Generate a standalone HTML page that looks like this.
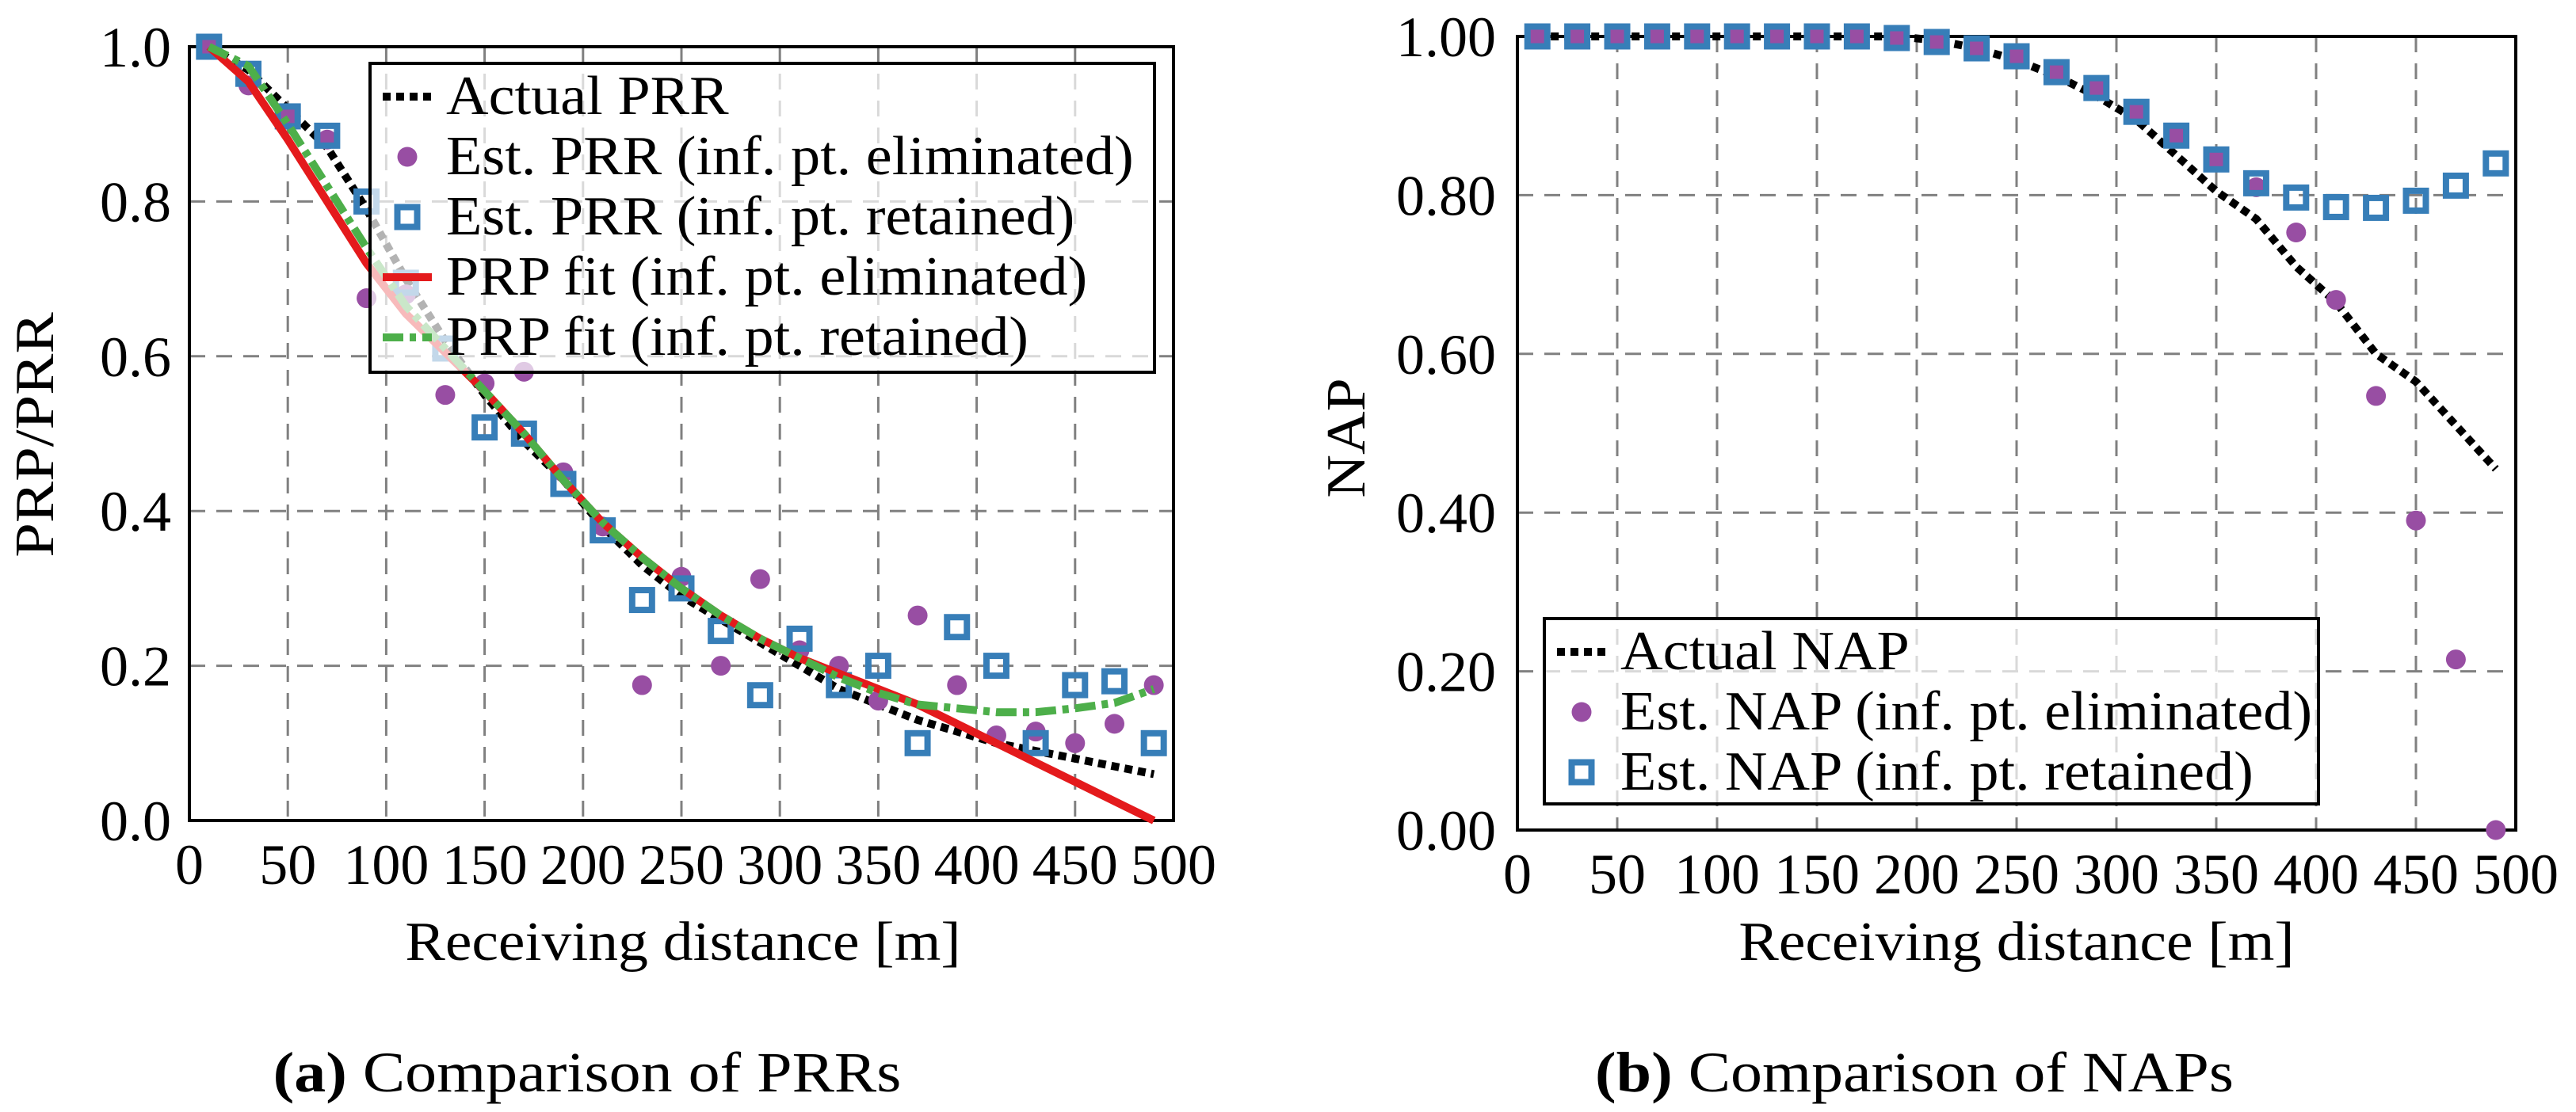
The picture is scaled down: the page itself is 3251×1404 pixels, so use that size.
<!DOCTYPE html>
<html><head><meta charset="utf-8"><style>
html,body{margin:0;padding:0;background:#fff;}
svg{display:block;font-family:"Liberation Serif",serif;}
</style></head><body>
<svg id="svg" width="3251" height="1404" viewBox="0 0 3251 1404" xmlns="http://www.w3.org/2000/svg">
<g id="gA"></g>
<g id="gB"></g>
<text class="sc" data-k="1.12" x="51" y="549" font-size="70" text-anchor="middle" transform="rotate(-90 51 549)" dominant-baseline="middle">PRP/PRR</text>
<text class="sc" data-k="1.08" x="1706" y="553" font-size="70" text-anchor="middle" transform="rotate(-90 1706 553)" dominant-baseline="middle">NAP</text>
<text class="sc" data-k="1.08" x="862" y="1212" font-size="70" text-anchor="middle">Receiving distance [m]</text>
<text class="sc" data-k="1.08" x="2545" y="1212" font-size="70" text-anchor="middle">Receiving distance [m]</text>
<text class="sc" data-k="1.11" x="741" y="1378" font-size="72" text-anchor="middle"><tspan font-weight="bold">(a)</tspan> Comparison of PRRs</text>
<text class="sc" data-k="1.11" x="2416" y="1378" font-size="72" text-anchor="middle"><tspan font-weight="bold">(b)</tspan> Comparison of NAPs</text>
</svg>
<script>
const distances=[10,30,50,70,90,110,130,150,170,190,210,230,250,270,290,310,330,350,370,390,410,430,450,470,490];
const xTicks=[0,50,100,150,200,250,300,350,400,450,500];
const yTicksA=[0,0.2,0.4,0.6,0.8,1.0];
const yTickLabelsA=["0.0","0.2","0.4","0.6","0.8","1.0"];
const yTicksB=[0,0.2,0.4,0.6,0.8,1.0];
const yTickLabelsB=["0.00","0.20","0.40","0.60","0.80","1.00"];
const actualPRR=[1.0,0.97,0.92,0.87,0.79,0.70,0.62,0.55,0.49,0.44,0.38,0.33,0.29,0.26,0.23,0.20,0.17,0.15,0.13,0.115,0.10,0.09,0.08,0.07,0.06];
const estPRRElim=[1.0,0.95,0.91,0.88,0.675,0.68,0.55,0.565,0.58,0.45,0.38,0.175,0.315,0.20,0.312,0.22,0.20,0.155,0.265,0.175,0.11,0.115,0.10,0.125,0.175];
const estPRRRet=[1.0,0.965,0.91,0.885,0.80,0.695,0.61,0.508,0.50,0.435,0.375,0.285,0.30,0.245,0.162,0.235,0.175,0.20,0.10,0.25,0.20,0.10,0.175,0.18,0.10];
const fitElim=[1.0,0.955,0.88,0.80,0.72,0.655,0.605,0.555,0.50,0.44,0.385,0.34,0.30,0.265,0.235,0.21,0.19,0.17,0.15,0.125,0.10,0.075,0.05,0.025,0.0];
const fitRet=[1.0,0.975,0.90,0.82,0.74,0.665,0.61,0.555,0.50,0.44,0.385,0.34,0.30,0.265,0.235,0.21,0.185,0.165,0.15,0.145,0.14,0.14,0.145,0.152,0.17];
const actualNAP=[1,1,1,1,1,1,1,1,1,1,0.995,0.985,0.97,0.95,0.925,0.895,0.85,0.805,0.77,0.71,0.665,0.60,0.565,0.51,0.455];
const estNAPElim=[1,1,1,1,1,1,1,1,1,0.998,0.993,0.985,0.975,0.955,0.935,0.905,0.875,0.845,0.81,0.753,0.668,0.547,0.39,0.215,0.0];
const estNAPRet=[1,1,1,1,1,1,1,1,1,0.998,0.993,0.985,0.975,0.955,0.935,0.905,0.875,0.845,0.815,0.797,0.785,0.784,0.793,0.812,0.84];

const NS="http://www.w3.org/2000/svg";
function mk(parent,tag,attrs){const e=document.createElementNS(NS,tag);for(const k in attrs)e.setAttribute(k,attrs[k]);parent.appendChild(e);return e;}
const BLUE="#377eb8",PURPLE="#984ea3",RED="#e41a1c",GREEN="#4daf4a";

function chart(g,L,R,T,B,yTicks,yLabels,labelX){
  const sx=v=>L+(v-0)/(500-0)*(R-L);
  const sy=v=>B-(v-0)/(1-0)*(B-T);
  for(const t of xTicks){
    if(t>0&&t<500){const l=mk(g,'line',{x1:sx(t),x2:sx(t),y1:T,y2:B,stroke:'#808080','stroke-width':3,'stroke-dasharray':'20,14'});
    
    }
    const tx=mk(g,'text',{x:sx(t),y:B+80,'font-size':72,'text-anchor':'middle'});tx.textContent=t;
    
    
  }
  yTicks.forEach((t,i)=>{
    if(t>0&&t<1){const l=mk(g,'line',{x1:L,x2:R,y1:sy(t),y2:sy(t),stroke:'#808080','stroke-width':3,'stroke-dasharray':'20,14'});
    
    }
    const tx=mk(g,'text',{x:labelX,y:sy(t)+25,'font-size':72,'text-anchor':'end'});tx.textContent=yLabels[i];
    
    
  });
  const fr=mk(g,'rect',{x:L,y:T,width:R-L,height:B-T,fill:'none',stroke:'#000','stroke-width':4});
  
  
  return {sx,sy};
}
function line(g,s,ys,style,name){
  const d=distances.map((x,i)=>(i?'L':'M')+s.sx(x).toFixed(1)+' '+s.sy(ys[i]).toFixed(1)).join(' ');
  const p=mk(g,'path',Object.assign({d,fill:'none','stroke-linejoin':'round'},style));
  
  
}
function circles(g,s,ys,name){
  distances.forEach((x,i)=>{const c=mk(g,'circle',{cx:s.sx(x),cy:s.sy(ys[i]),r:12.5,fill:PURPLE});
  
  });
}
function squares(g,s,ys,name){
  distances.forEach((x,i)=>{const r=mk(g,'rect',{x:s.sx(x)-12.5,y:s.sy(ys[i])-12.5,width:25,height:25,fill:'none',stroke:BLUE,'stroke-width':8});
  
  });
}
const dotBlack={stroke:'#000','stroke-width':10,'stroke-dasharray':'10,7'};
const solidRed={stroke:RED,'stroke-width':10};
const dashGreen={stroke:GREEN,'stroke-width':10,'stroke-dasharray':'26,8,8,8'};

function legend(g,x,y,w,h,items,name){
  const lg=mk(g,'g',{});
  
  
  mk(lg,'rect',{x,y,width:w,height:h,fill:'#fff','fill-opacity':0.7,stroke:'#000','stroke-width':4});
  items.forEach((it,i)=>{
    const by=y+64+i*76, cy=by-22;
    const e=mk(lg,'g',{});
    
    
    if(it.type==='line') mk(e,'line',Object.assign({x1:x+16,x2:x+78,y1:cy,y2:cy},it.style));
    if(it.type==='circle') mk(e,'circle',{cx:x+47,cy,r:12.5,fill:PURPLE});
    if(it.type==='square') mk(e,'rect',{x:x+34.5,y:cy-12.5,width:25,height:25,fill:'none',stroke:BLUE,'stroke-width':8});
    const t=mk(e,'text',{x:x+96,y:by,'font-size':70,'class':'sc','data-k':'1.06'});t.textContent=it.label;
  });
}

const gA=document.getElementById('gA');
const sA=chart(gA,239,1481,59,1036,yTicksA,yTickLabelsA,216);
line(gA,sA,actualPRR,dotBlack,'actual-prr-line');
circles(gA,sA,estPRRElim,'est-prr-eliminated-point');
squares(gA,sA,estPRRRet,'est-prr-retained-point');
line(gA,sA,fitElim,solidRed,'prp-fit-eliminated-line');
line(gA,sA,fitRet,dashGreen,'prp-fit-retained-line');
legend(gA,467,80,990,390,[
 {type:'line',style:dotBlack,label:'Actual PRR'},
 {type:'circle',label:'Est. PRR (inf. pt. eliminated)'},
 {type:'square',label:'Est. PRR (inf. pt. retained)'},
 {type:'line',style:solidRed,label:'PRP fit (inf. pt. eliminated)'},
 {type:'line',style:dashGreen,label:'PRP fit (inf. pt. retained)'}],'legend-prr');

const gB=document.getElementById('gB');
const sB=chart(gB,1915,3175,46,1048,yTicksB,yTickLabelsB,1888);
line(gB,sB,actualNAP,dotBlack,'actual-nap-line');
circles(gB,sB,estNAPElim,'est-nap-eliminated-point');
squares(gB,sB,estNAPRet,'est-nap-retained-point');
legend(gB,1949,781,977,234,[
 {type:'line',style:dotBlack,label:'Actual NAP'},
 {type:'circle',label:'Est. NAP (inf. pt. eliminated)'},
 {type:'square',label:'Est. NAP (inf. pt. retained)'}],'legend-nap');

document.querySelectorAll('text.sc').forEach(t=>{
  const k=parseFloat(t.getAttribute('data-k'));
  const w=t.getComputedTextLength();
  if(w>0){t.setAttribute('textLength',(w*k).toFixed(1));t.setAttribute('lengthAdjust','spacingAndGlyphs');}
});
</script>
</body></html>
